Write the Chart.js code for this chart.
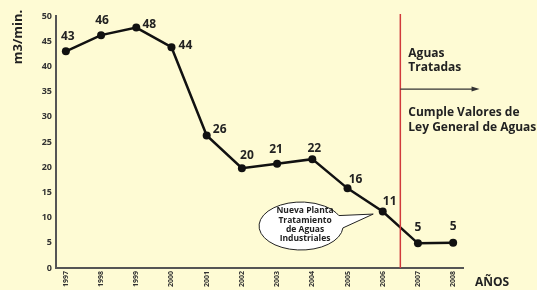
<!DOCTYPE html>
<html><head><meta charset="utf-8">
<script src="https://cdn.jsdelivr.net/npm/chart.js@4/dist/chart.umd.min.js"></script>
<style>
html,body{margin:0;padding:0;background:#fefbd4;}
#wrap{width:537px;height:290px;position:relative;}
</style></head>
<body><div id="wrap"><canvas id="c" width="537" height="290"></canvas></div>
<script>
const years = ['1997','1998','1999','2000','2001','2002','2003','2004','2005','2006','2007','2008'];
const flow = [43, 46.2, 47.7, 43.8, 26.3, 19.8, 20.7, 21.6, 15.8, 11.2, 4.9, 5];
const valueLabels = [43, 46, 48, 44, 26, 20, 21, 22, 16, 11, 5, 5];
const labelOffsets = [[2,-15],[1,-15],[13,-3],[14,-2],[13,-6],[5,-13],[-1,-14],[2,-11],[8,-9],[7,-10],[0,-16],[0,-16]];
const yTicks = [0,5,10,15,20,25,30,35,40,45,50];

const FONT = "'Open Sans',sans-serif";

const annot = {
  id:'annot',
  afterDatasetsDraw(chart){
    const ctx = chart.ctx, xs = chart.scales.x, ys = chart.scales.y;
    const meta = chart.getDatasetMeta(0);
    ctx.save();
    // value labels
    ctx.fillStyle = '#222';
    ctx.font = 'bold 12px ' + FONT;
    ctx.textAlign = 'center'; ctx.textBaseline = 'middle';
    meta.data.forEach((p,i)=>{
      ctx.fillText(String(valueLabels[i]), p.x + labelOffsets[i][0], p.y + labelOffsets[i][1]);
    });
    // red vertical line
    const rx = xs.getPixelForValue(9.5);
    ctx.strokeStyle = '#d0393b'; ctx.lineWidth = 1.5;
    ctx.beginPath(); ctx.moveTo(rx, ys.getPixelForValue(50.4)); ctx.lineTo(rx, ys.getPixelForValue(0)); ctx.stroke();
    // arrow
    const ay = ys.getPixelForValue(35.5), ax2 = xs.getPixelForValue(11.75);
    ctx.strokeStyle = '#333'; ctx.lineWidth = 1.2;
    ctx.beginPath(); ctx.moveTo(rx, ay); ctx.lineTo(ax2-6, ay); ctx.stroke();
    ctx.fillStyle = '#333';
    ctx.beginPath(); ctx.moveTo(ax2, ay); ctx.lineTo(ax2-8, ay-2.5); ctx.lineTo(ax2-8, ay+2.5); ctx.closePath(); ctx.fill();
    // right texts
    ctx.fillStyle = '#222'; ctx.textAlign = 'left'; ctx.textBaseline = 'middle';
    ctx.font = 'bold 12px ' + FONT;
    ctx.fillText('Aguas', rx+8, 54);
    ctx.fillText('Tratadas', rx+8, 68);
    ctx.fillText('Cumple Valores de', rx+8, 113);
    ctx.fillText('Ley General de Aguas', rx+8, 128);
    // callout
    const cx = xs.getPixelForValue(6.68), cy = ys.getPixelForValue(8.33);
    const tipX = xs.getPixelForValue(8.73), tipY = ys.getPixelForValue(10.7);
    ctx.fillStyle = '#ffffff'; ctx.strokeStyle = '#222'; ctx.lineWidth = 1;
    ctx.beginPath();
    const a1 = -0.45, a2 = 0.08;
    ctx.ellipse(cx, cy, 42, 24, 0, a2, a1 + Math.PI*2, false);
    ctx.lineTo(tipX, tipY);
    ctx.closePath();
    ctx.fill(); ctx.stroke();
    ctx.fillStyle = '#222';
    ctx.textAlign = 'center';
    ctx.font = 'bold 8.5px ' + FONT;
    ['Nueva Planta','Tratamiento','de Aguas','Industriales'].forEach((t,i)=>{
      ctx.fillText(t, cx+4, cy - 15 + i*9.3);
    });
    // axis titles
    ctx.font = 'bold 12px ' + FONT;
    ctx.textAlign = 'left'; ctx.textBaseline = 'middle';
    ctx.fillText('AÑOS', 475, 283);
    ctx.save();
    ctx.translate(18, 37); ctx.rotate(-Math.PI/2);
    ctx.textAlign = 'center';
    ctx.font = 'bold 13px ' + FONT;
    ctx.fillText('m3/min.', 0, 0);
    ctx.restore();
    ctx.restore();
  }
};

new Chart(document.getElementById('c'), {
  type:'line',
  data:{ datasets:[{
    data: flow.map((v,i)=>({x:i, y:v})),
    borderColor:'#111', borderWidth:2.5, pointRadius:4, pointBackgroundColor:'#111',
    pointBorderWidth:0, tension:0
  }]},
  options:{
    responsive:false, animation:false,
    layout:{padding:{left:0, right:74, top:16, bottom:0}},
    plugins:{legend:{display:false}, tooltip:{enabled:false}},
    scales:{
      x:{ type:'linear', min:-0.28, max:11.28,
        afterBuildTicks(s){ s.ticks = years.map((y,i)=>({value:i})); },
        afterFit(s){ s.height = 22; },
        grid:{display:false, drawTicks:false}, border:{display:true, color:'#555', width:2},
        ticks:{ callback:(v)=>years[v], minRotation:90, maxRotation:90, autoSkip:false,
          font:{family:FONT, size:7, weight:'bold'}, color:'#333', padding:3 }
      },
      y:{ min:0, max:50,
        afterBuildTicks(s){ s.ticks = yTicks.map(v=>({value:v})); },
        afterFit(s){ s.width = 56; },
        grid:{display:false, drawTicks:false}, border:{display:true, color:'#555', width:2},
        ticks:{ font:{family:FONT, size:9, weight:'bold'}, color:'#333', padding:4 }
      }
    }
  },
  plugins:[annot]
});
</script></body></html>
